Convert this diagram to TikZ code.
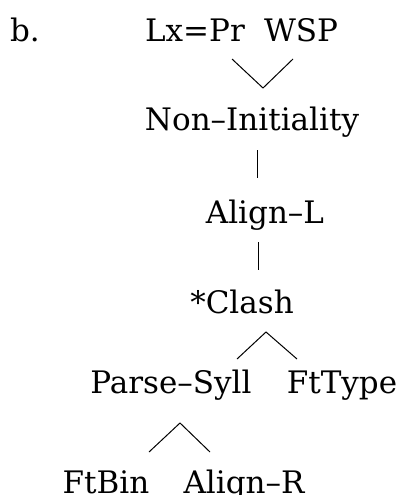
\documentclass[tikz,border=0pt]{standalone}
\usepackage{fontspec}
\setmainfont{DejaVu Serif}
\tikzset{
  lab/.style={inner sep=0pt, anchor=base, font=\fontsize{31}{36}\selectfont},
  edge/.style={line width=1pt, black}
}
\begin{document}
\begin{tikzpicture}[x=1pt,y=-1pt]
\useasboundingbox (0,0) rectangle (404,495);
\node[lab] (b) at (25,42) {b.};
\node[lab] (lx) at (195,42) {Lx=Pr};
\node[lab] (wsp) at (301,42) {WSP};
\node[lab] (ni) at (252,130) {Non–Initiality};
\node[lab] (al) at (265,223) {Align–L};
\node[lab] (cl) at (242,313) {*Clash};
\node[lab] (ps) at (171,393) {Parse–Syll};
\node[lab] (ft) at (342,393) {FtType};
\node[lab] (fb) at (106,493) {FtBin};
\node[lab] (ar) at (244,493) {Align–R};
% connector end points
\coordinate (v1a) at (232,59);
\coordinate (v1b) at (293,59);
\coordinate (v1j) at (263,88);
\coordinate (s1a) at (257,150);
\coordinate (s1b) at (257,178);
\coordinate (s2a) at (258,242);
\coordinate (s2b) at (258,270);
\coordinate (c1j) at (266,332);
\coordinate (c1a) at (237,359);
\coordinate (c1b) at (297,359);
\coordinate (p1j) at (180,423);
\coordinate (p1a) at (149,452);
\coordinate (p1b) at (210,452);
\draw[edge] (v1a) -- (v1j) -- (v1b);
\draw[edge] (s1a) -- (s1b);
\draw[edge] (s2a) -- (s2b);
\draw[edge] (c1a) -- (c1j) -- (c1b);
\draw[edge] (p1a) -- (p1j) -- (p1b);
\end{tikzpicture}
\end{document}
